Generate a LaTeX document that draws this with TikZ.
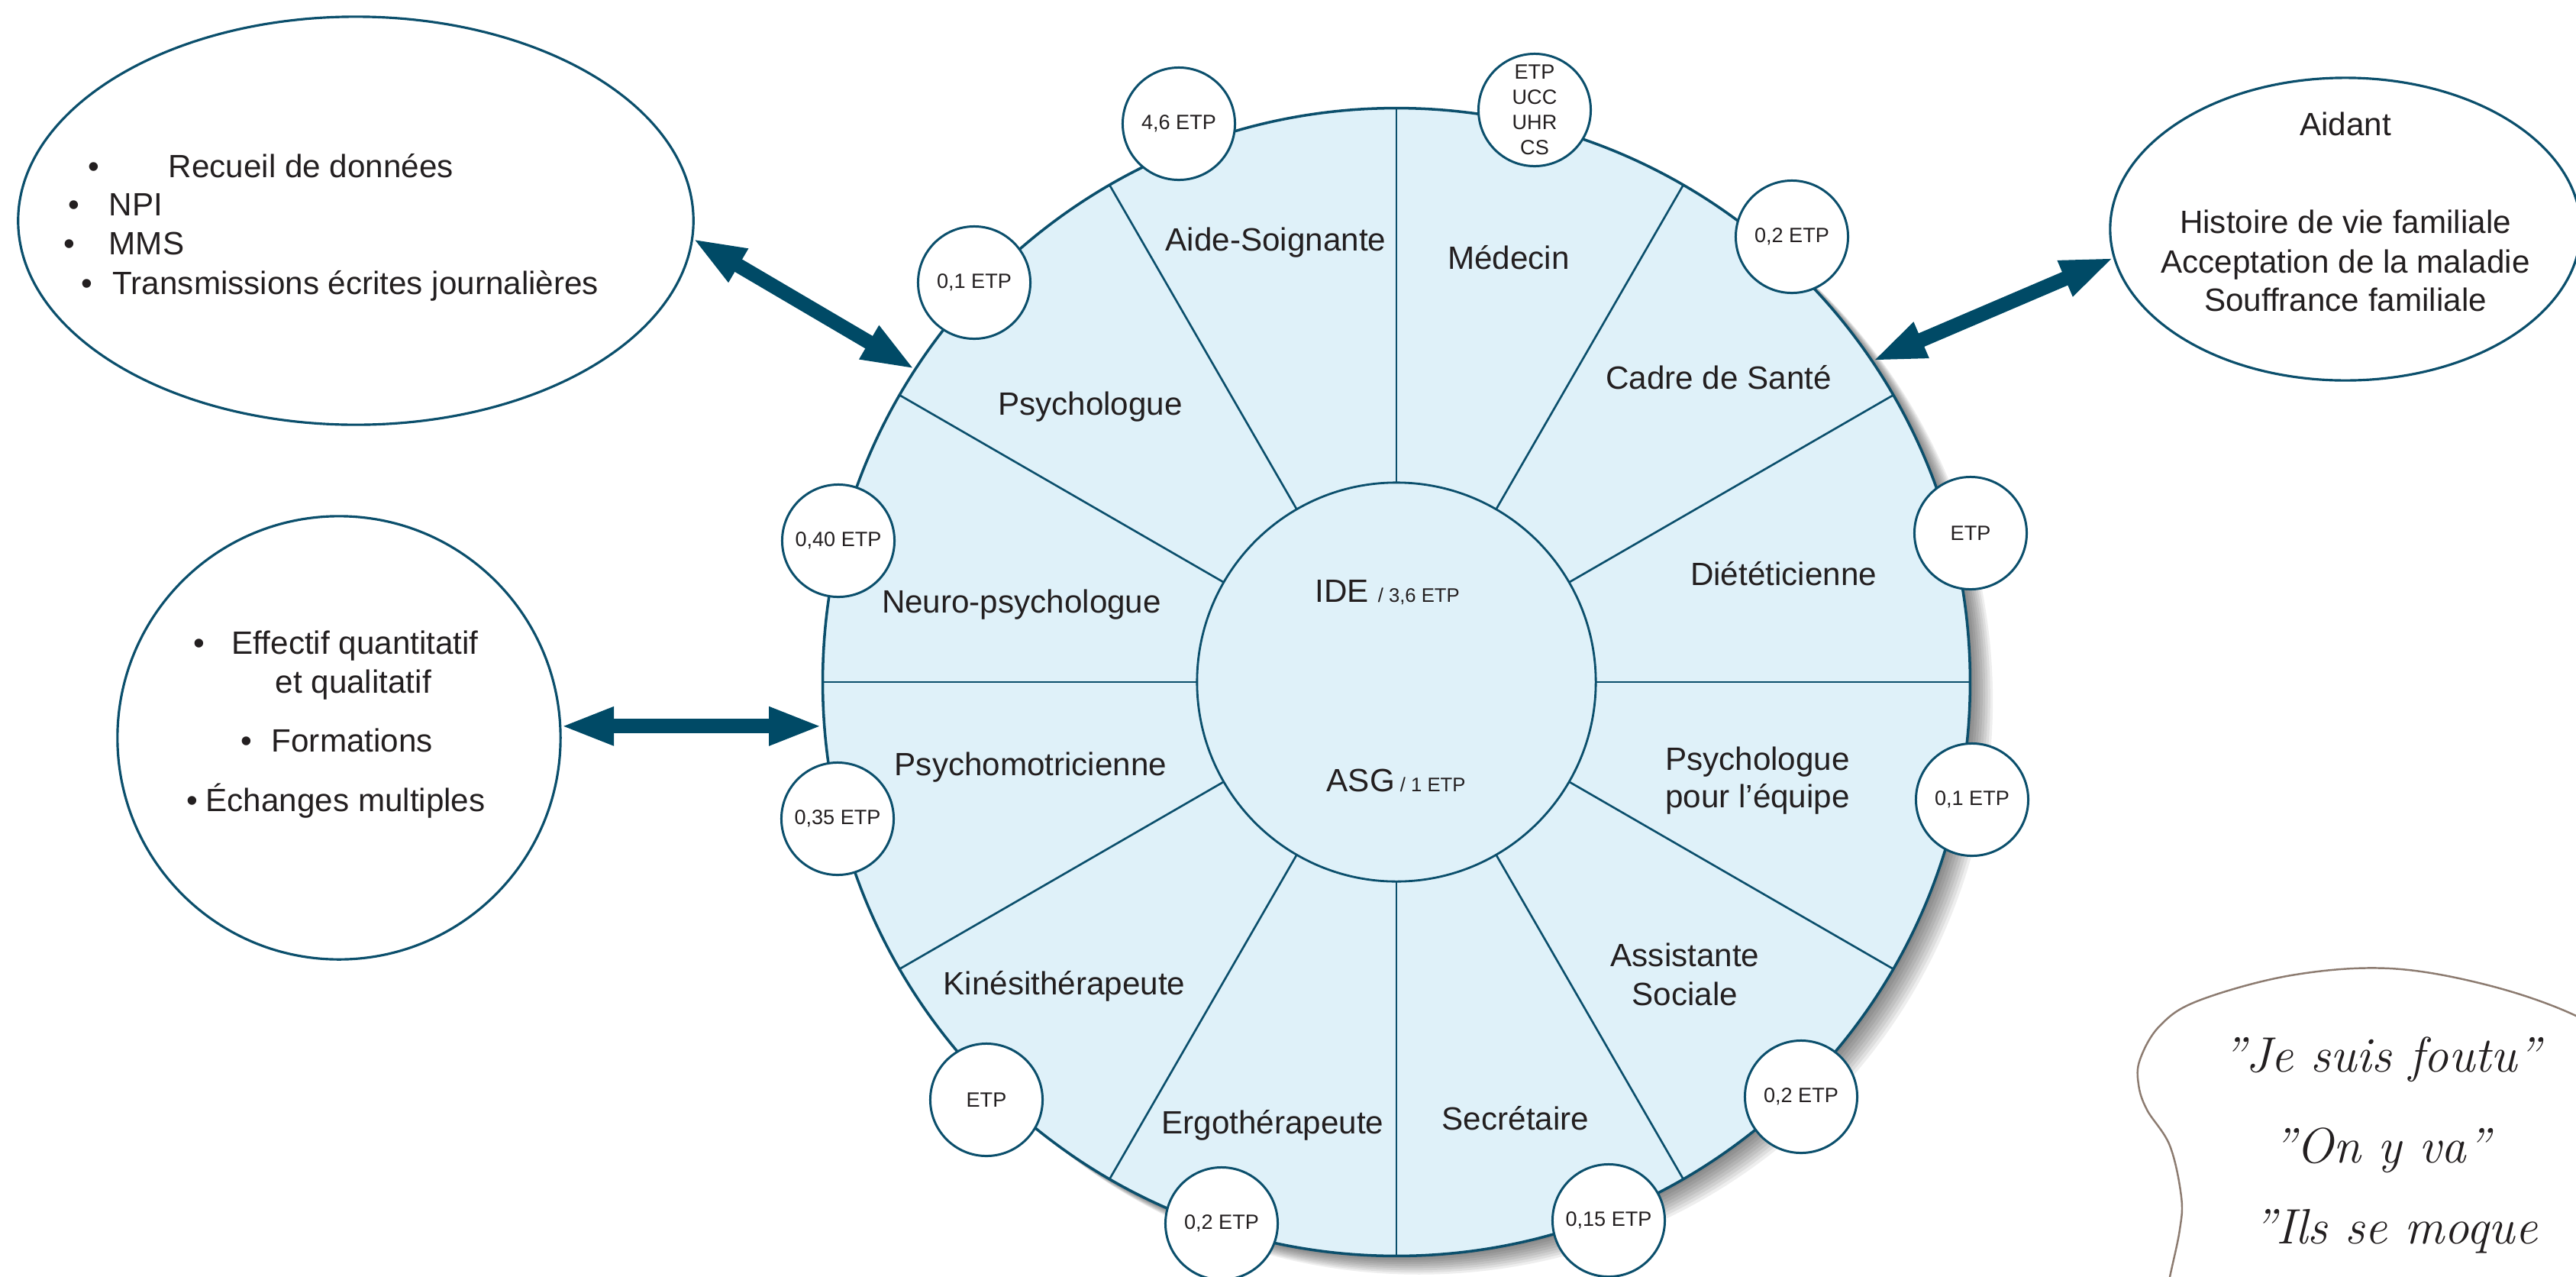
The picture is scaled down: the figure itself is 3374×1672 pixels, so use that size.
\documentclass[tikz,border=0pt]{standalone}
\usepackage{fontspec}
\newfontfamily\arialf{Liberation Sans}
\usetikzlibrary{shapes.geometric,arrows.meta}
\definecolor{lineblue}{HTML}{0B4F6C}
\definecolor{arrowblue}{HTML}{004A66}
\definecolor{fillblue}{HTML}{DFF1F9}
\definecolor{txt}{HTML}{231F20}
\definecolor{blobc}{HTML}{8C7B70}
\begin{document}
\begin{tikzpicture}[x=0.01cm, y=-0.01cm,
  every node/.style={text=txt},
  lbl/.style={font=\arialf\fontsize{12}{14.4}\selectfont, anchor=base, inner sep=0pt},
  lblw/.style={lbl, anchor=base west},
  etp/.style={circle, draw=lineblue, line width=0.85pt, fill=white, minimum size=1.47cm,
    inner sep=0pt, outer sep=0pt, font=\arialf\fontsize{7.7}{9.4}\selectfont, align=center},
  bubble/.style={draw=lineblue, line width=0.9pt, fill=white, inner sep=0pt, outer sep=0pt},
  bigarrow/.style={draw=arrowblue, line width=5.4pt,
    {Triangle[width=13pt,length=20pt]}-{Triangle[width=13pt,length=20pt]}},
  divline/.style={draw=lineblue, line width=0.75pt},
  hand/.style={font=\fontsize{18.5}{22}\selectfont\itshape, inner sep=0pt},
]
\useasboundingbox (0,0) rectangle (3374,1672);
\clip (0,0) rectangle (3374,1672);

% shadow of the main disc
\foreach \i in {1,...,9}
  \fill[black, opacity=0.065] (1829+3.3*\i, 893+2.7*\i) circle[radius=7.51cm];

% main disc
\node[circle, draw=lineblue, fill=fillblue, line width=1pt, minimum size=15.02cm,
      inner sep=0pt, outer sep=0pt] (main) at (1829,893) {};
\node[circle, draw=lineblue, fill=fillblue, line width=0.8pt, minimum size=5.22cm,
      inner sep=0pt, outer sep=0pt] (inner) at (1829,893) {};
\foreach \a in {0,30,...,330}
  \draw[divline] (inner.\a) -- (main.\a);

% sector labels
\node[lbl] (tAS)   at (1671,328)  {Aide-Soignante};
\node[lbl] (tMed)  at (1976,352)  {Médecin};
\node[lbl] (tCad)  at (2251,509)  {Cadre de Santé};
\node[lbl] (tDiet) at (2336,766)  {Diététicienne};
\node[lbl] (tPsyE1) at (2302,1008) {Psychologue};
\node[lbl] (tPsyE2) at (2302,1057) {pour l’équipe};
\node[lbl] (tAss1) at (2207,1265) {Assistante};
\node[lbl] (tAss2) at (2207,1316) {Sociale};
\node[lbl] (tSec)  at (1985,1479) {Secrétaire};
\node[lbl] (tErg)  at (1667,1484) {Ergothérapeute};
\node[lbl] (tKin)  at (1394,1302) {Kinésithérapeute};
\node[lbl] (tPsm)  at (1350,1015) {Psychomotricienne};
\node[lbl] (tNeu)  at (1338,802)  {Neuro-psychologue};
\node[lbl] (tPsy)  at (1428,543)  {Psychologue};
\node[lblw] (tIDE) at (1722,788)  {IDE {\fontsize{7.3}{9}\selectfont / 3,6 ETP}};
\node[lblw] (tASG) at (1737,1036) {ASG{\fontsize{7.3}{9}\selectfont{} / 1 ETP}};

% ETP circles
\node[etp] (e1)  at (1544,162)  {4,6 ETP};
\node[etp] (e2)  at (2010,144)  {ETP\\UCC\\UHR\\CS};
\node[etp] (e3)  at (1276,370)  {0,1 ETP};
\node[etp] (e4)  at (2347,310)  {0,2 ETP};
\node[etp] (e5)  at (2581,698)  {ETP};
\node[etp] (e6)  at (2583,1047) {0,1 ETP};
\node[etp] (e7)  at (2359,1436) {0,2 ETP};
\node[etp] (e8)  at (2107,1598) {0,15 ETP};
\node[etp] (e9)  at (1600,1602) {0,2 ETP};
\node[etp] (e10) at (1292,1440) {ETP};
\node[etp] (e11) at (1097,1072) {0,35 ETP};
\node[etp] (e12) at (1098,708)  {0,40 ETP};

% side bubbles
\node[bubble, ellipse, minimum width=8.84cm, minimum height=5.34cm] (recueil) at (466,289) {};
\node[bubble, circle, minimum size=5.8cm] (effectif) at (444,966) {};
\node[bubble, ellipse, minimum width=6.16cm, minimum height=3.96cm] (aidant) at (3072,300) {};

% recueil texts
\node[lbl]  (b1) at (123,232) {•};
\node[lblw] (r1) at (220,232) {Recueil de données};
\node[lbl]  (b2) at (97,282)  {•};
\node[lblw] (r2) at (142,282) {NPI};
\node[lbl]  (b3) at (91,333)  {•};
\node[lblw] (r3) at (142,333) {MMS};
\node[lbl]  (b4) at (114,385) {•};
\node[lblw] (r4) at (147,385) {Transmissions écrites journalières};

% effectif texts
\node[lbl]  (b5) at (261,856)  {•};
\node[lblw] (f1) at (303,856)  {Effectif quantitatif};
\node[lblw] (f2) at (360,907)  {et qualitatif};
\node[lbl]  (b6) at (323,984)  {•};
\node[lblw] (f3) at (355,984)  {Formations};
\node[lbl]  (b7) at (252,1062) {•};
\node[lblw] (f4) at (269,1062) {Échanges multiples};

% aidant texts
\node[lbl] (a0) at (3072,177) {Aidant};
\node[lbl] (a1) at (3072,305) {Histoire de vie familiale};
\node[lbl] (a2) at (3072,357) {Acceptation de la maladie};
\node[lbl] (a3) at (3072,407) {Souffrance familiale};

% arrows
\draw[bigarrow] (recueil.-3.7) -- (main.147.7);
\draw[bigarrow] (main.34.3) -- (aidant.187.2);
\draw[bigarrow] (effectif.3.5) -- (effectif.3.5 -| main.west);

% speech blob
\draw[blobc, line width=0.7pt] plot[smooth, tension=0.6] coordinates {
  (3450,1380) (3374,1330) (3259,1290) (3130,1268) (3001,1277) (2880,1310)
  (2829,1343) (2803,1387) (2801,1420) (2812,1453) (2842,1500) (2857,1567)
  (2855,1610) (2842,1672) (2835,1710)};
\node[hand, anchor=base] (q1) at (3119,1403) {"Je suis foutu"};
\node[hand, anchor=base] (q2) at (3119,1522) {"On y va"};
\node[hand, anchor=base west] (q3) at (2950,1628) {"Ils se moque};
\end{tikzpicture}
\end{document}
